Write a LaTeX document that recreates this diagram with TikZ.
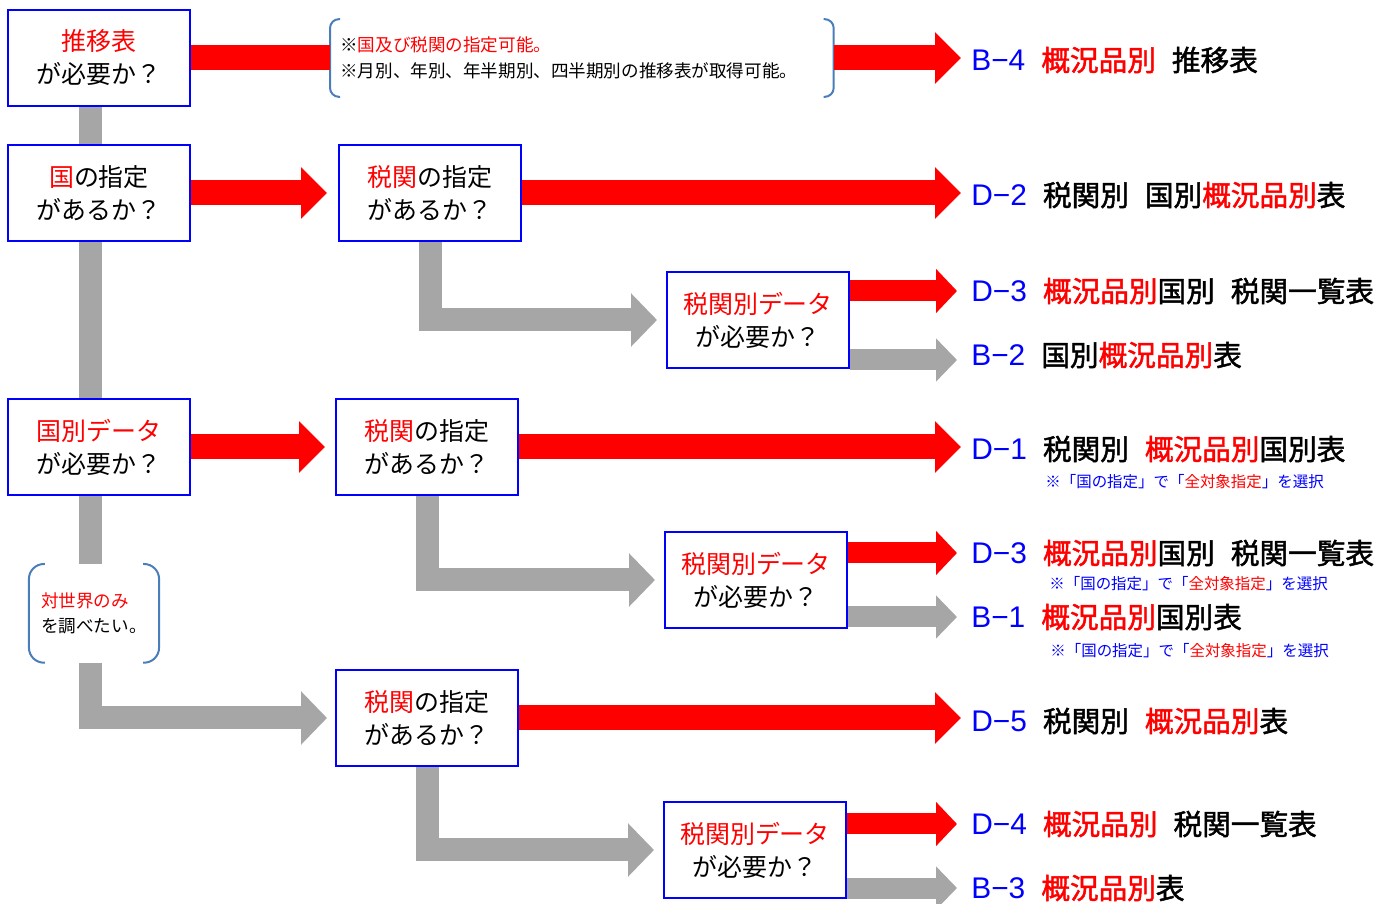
\documentclass[tikz,border=0pt]{standalone}
\usepackage{fontspec}
\setmainfont{Noto Sans CJK JP}
\newfontfamily\latinfont{Liberation Sans}
\newfontfamily\jpmedium[FakeBold=1.6]{Noto Sans CJK JP}
\usetikzlibrary{arrows.meta, positioning}
\definecolor{bracketblue}{HTML}{4A7EBB}
\definecolor{flowgray}{HTML}{A6A6A6}
\newcommand{\redtxt}[1]{\textcolor{red}{#1}}
\newcommand{\tcode}[1]{{\latinfont\fontsize{17}{18}\selectfont\color{blue}#1}}
\newcommand{\jgap}{\hspace{0.32cm}}

\begin{document}
\begin{tikzpicture}[
    every node/.style={font=\fontsize{14.2}{18.8}\selectfont},
    question/.style={draw=blue, line width=0.04cm, fill=white, align=center, minimum width=3.64cm, minimum height=1.92cm, inner sep=0pt},
    remark/.style={align=left, font=\fontsize{10}{14.6}\selectfont},
    result/.style={anchor=west, inner xsep=0.2cm, inner ysep=0pt, font=\fontsize{16.3}{18}\selectfont\jpmedium},
    hint/.style={anchor=west, inner sep=0pt, text=blue, font=\fontsize{8.8}{10}\selectfont},
    bracket/.style={draw=bracketblue, line width=0.04cm},
    redarrow/.style={draw=red, line width=0.5cm, -{Triangle[length=0.52cm, width=1cm]}},
    redsmall/.style={draw=red, line width=0.42cm, -{Triangle[length=0.42cm, width=0.86cm]}, shorten >=0.08cm},
    grayarrow/.style={draw=flowgray, line width=0.46cm, -{Triangle[length=0.52cm, width=1.04cm]}, shorten >=0.18cm},
    graysmall/.style={draw=flowgray, line width=0.42cm, -{Triangle[length=0.42cm, width=0.84cm]}, shorten >=0.08cm},
    trunk/.style={draw=flowgray, line width=0.46cm}
]
    \useasboundingbox (0,0) rectangle (27.96,-18.08);

    % Nodes
    \node (trend) [question] at (1.98,-1.16) {\redtxt{推移表}\\が必要か？};
    \node (country) [question, below=0.74cm of trend] {\redtxt{国}の指定\\があるか？};
    \node (bycountry) [question, below=3.12cm of country] {\redtxt{国別データ}\\が必要か？};
    \node (world) [remark, below=1.36cm of bycountry, xshift=-0.1cm, minimum height=1.96cm, inner xsep=0.24cm] {\redtxt{対世界のみ}\\を調べたい。};
    \node (avail) [remark, right=2.78cm of trend, text width=9.66cm, minimum height=1.54cm, inner xsep=0.2cm] {※\redtxt{国及び税関の指定可能。}\\※月別、年別、年半期別、四半期別の推移表が取得可能。};

    \node (customs1) [question, right=2.94cm of country] {\redtxt{税関}の指定\\があるか？};
    \node (customs2) [question, right=2.88cm of bycountry] {\redtxt{税関}の指定\\があるか？};
    \node (customs3) [question, below=3.46cm of customs2] {\redtxt{税関}の指定\\があるか？};

    \node (data1) [question, below right=0.58cm and 2.88cm of customs1] {\redtxt{税関別データ}\\が必要か？};
    \node (data2) [question, below right=0.7cm and 2.9cm of customs2] {\redtxt{税関別データ}\\が必要か？};
    \node (data3) [question, below right=0.68cm and 2.88cm of customs3] {\redtxt{税関別データ}\\が必要か？};

    % Results
    \node (b4) [result] at (19.22,-1.2) {\tcode{B−4}\jgap\redtxt{概況品別}\jgap 推移表};
    \node (d2) [result] at (19.22,-3.9) {\tcode{D−2}\jgap 税関別\jgap 国別\redtxt{概況品別}表};
    \node (d3a) [result] at (19.22,-5.82) {\tcode{D−3}\jgap\redtxt{概況品別}国別\jgap 税関一覧表};
    \node (b2) [result] at (19.22,-7.1) {\tcode{B−2}\jgap 国別\redtxt{概況品別}表};
    \node (d1) [result] at (19.22,-8.98) {\tcode{D−1}\jgap 税関別\jgap\redtxt{概況品別}国別表};
    \node (d1note) [hint] at (20.9,-9.64) {※「国の指定」で「\redtxt{全対象指定}」を選択};
    \node (d3b) [result] at (19.22,-11.06) {\tcode{D−3}\jgap\redtxt{概況品別}国別\jgap 税関一覧表};
    \node (d3note) [hint] at (20.98,-11.68) {※「国の指定」で「\redtxt{全対象指定}」を選択};
    \node (b1) [result] at (19.22,-12.34) {\tcode{B−1}\jgap\redtxt{概況品別}国別表};
    \node (b1note) [hint] at (21.0,-13.02) {※「国の指定」で「\redtxt{全対象指定}」を選択};
    \node (d5) [result] at (19.22,-14.42) {\tcode{D−5}\jgap 税関別\jgap\redtxt{概況品別}表};
    \node (d4) [result] at (19.22,-16.48) {\tcode{D−4}\jgap\redtxt{概況品別}\jgap 税関一覧表};
    \node (b3) [result] at (19.22,-17.76) {\tcode{B−3}\jgap\redtxt{概況品別}表};

    % Brackets
    \draw [bracket, rounded corners=0.18cm] ([xshift=0.2cm]avail.north west) -- (avail.north west) -- (avail.south west) -- ([xshift=0.2cm]avail.south west);
    \draw [bracket, rounded corners=0.18cm] ([xshift=-0.2cm]avail.north east) -- (avail.north east) -- (avail.south east) -- ([xshift=-0.2cm]avail.south east);
    \draw [bracket, rounded corners=0.3cm] ([xshift=0.32cm]world.north west) -- (world.north west) -- (world.south west) -- ([xshift=0.32cm]world.south west);
    \draw [bracket, rounded corners=0.3cm] ([xshift=-0.32cm]world.north east) -- (world.north east) -- (world.south east) -- ([xshift=-0.32cm]world.south east);

    % Edges
    \draw [trunk] ([xshift=-0.17cm]trend.south) -- ([xshift=-0.17cm]country.north);
    \draw [trunk] ([xshift=-0.17cm]country.south) -- ([xshift=-0.17cm]bycountry.north);
    \draw [trunk] ([xshift=-0.17cm]bycountry.south) -- ([xshift=-0.17cm]bycountry.south |- world.north);
    \draw [grayarrow, shorten >=0.16cm] ([xshift=-0.17cm]bycountry.south |- world.south) |- (customs3.west);

    \draw [red, line width=0.5cm] (trend.east) -- (trend.east -| avail.west);
    \draw [redarrow] (trend.east -| avail.east) -- (trend.east -| b4.west);
    \draw [redarrow, shorten >=0.22cm] (country.east) -- (country.east -| customs1.west);
    \draw [redarrow, shorten >=0.2cm] (bycountry.east) -- (bycountry.east -| customs2.west);
    \draw [redarrow] (customs1.east) -- (customs1.east -| d2.west);
    \draw [redarrow] (customs2.east) -- (customs2.east -| d1.west);
    \draw [redarrow] (customs3.east) -- (customs3.east -| d5.west);

    \draw [grayarrow] (customs1.south) |- (data1.west);
    \draw [grayarrow] (customs2.south) |- (data2.west);
    \draw [grayarrow] (customs3.south) |- (data3.west);

    \draw [redsmall] (data1.east |- d3a.west) -- (d3a.west);
    \draw [graysmall] ([yshift=-0.1cm]data1.east |- b2.west) -- ([yshift=-0.1cm]b2.west);
    \draw [redsmall] (data2.east |- d3b.west) -- (d3b.west);
    \draw [graysmall] (data2.east |- b1.west) -- (b1.west);
    \draw [redsmall] (data3.east |- d4.west) -- (d4.west);
    \draw [graysmall] (data3.east |- b3.west) -- (b3.west);
\end{tikzpicture}
\end{document}
